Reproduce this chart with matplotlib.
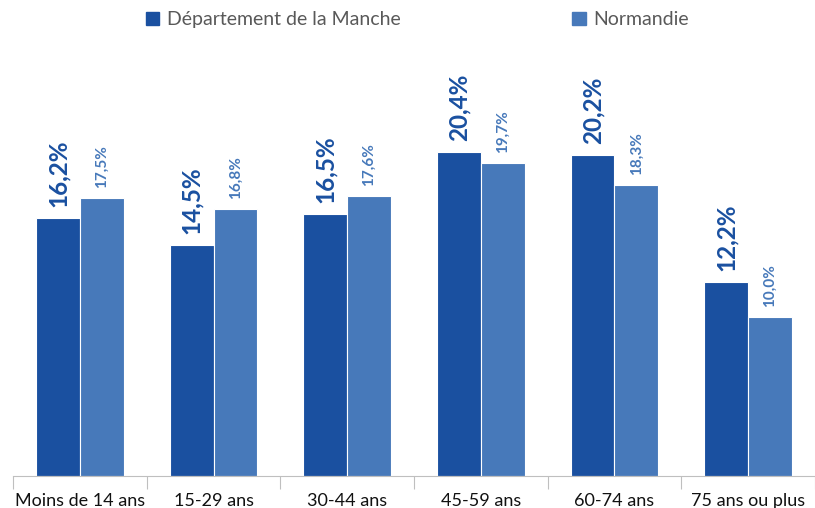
import numpy as np
import matplotlib
matplotlib.use("Agg")
from matplotlib import pyplot as plt
from matplotlib.patches import Patch

categories = ["Moins de 14 ans", "15-29 ans", "30-44 ans", "45-59 ans", "60-74 ans", "75 ans ou plus"]
manche = [16.2, 14.5, 16.5, 20.4, 20.2, 12.2]
normandie = [17.5, 16.8, 17.6, 19.7, 18.3, 10.0]
series_names = ["Département de la Manche", "Normandie"]

dark = "#1a50a0"
light = "#4779ba"
plt.rcParams['font.family'] = ['Lato', 'DejaVu Sans']

fig = plt.figure(figsize=(8.15, 5.08), dpi=100)
ax = fig.add_axes([13 / 815, 32 / 508, (815 - 13) / 815, (476 - 60) / 508])

x = np.arange(len(categories))
w = 0.328
ax.bar(x - w / 2, manche, w, color=dark, edgecolor="white", linewidth=0.8)
ax.bar(x + w / 2, normandie, w, color=light, edgecolor="white", linewidth=0.8)

for i in range(len(categories)):
    ax.annotate(f"{manche[i]:.1f}%".replace(".", ","), (x[i] - w / 2, manche[i]),
                xytext=(0, 8), textcoords="offset points", rotation=90,
                ha="center", va="bottom", color=dark, fontsize=17.5, fontweight="bold")
    ax.annotate(f"{normandie[i]:.1f}%".replace(".", ","), (x[i] + w / 2, normandie[i]),
                xytext=(0, 7), textcoords="offset points", rotation=90,
                ha="center", va="bottom", color=light, fontsize=11, fontweight="bold")

ax.set_xlim(-0.5, (815 - 13) / 134 - 0.5)
ax.set_ylim(0, (476 - 60) / 15.9)
for s in ["top", "right", "left"]:
    ax.spines[s].set_visible(False)
ax.spines["bottom"].set_color("#bfbfbf")
ax.set_yticks([])
ax.set_xticks(np.arange(-0.5, len(categories), 1.0))
ax.set_xticklabels([])
ax.set_xticks(x, minor=True)
ax.set_xticklabels(categories, minor=True, fontsize=13, color="#111111")
ax.tick_params(axis="x", which="major", length=9, color="#bfbfbf")
ax.tick_params(axis="x", which="minor", length=0, pad=12)

handles = [Patch(color=dark), Patch(color=light)]
fig.legend(handles, series_names, loc="upper center", bbox_to_anchor=(0.512, 1.012), ncol=2,
           frameon=False, fontsize=14, labelcolor="#595959", handlelength=0.7, handleheight=0.7,
           handletextpad=0.4, columnspacing=8.8)

fig.savefig("out.png", dpi=100)
